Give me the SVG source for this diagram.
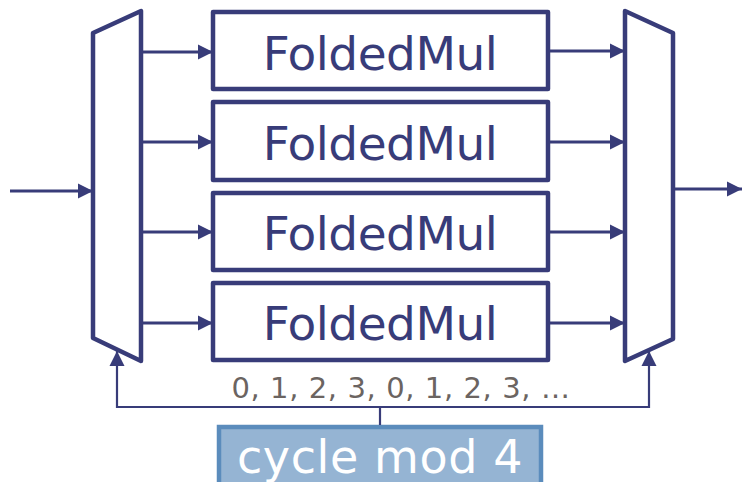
<svg xmlns="http://www.w3.org/2000/svg" width="742" height="482" viewBox="0 0 742 482">
  <defs>
    <marker id="ah" viewBox="0 0 10 10" refX="10" refY="5" markerWidth="15" markerHeight="16" markerUnits="userSpaceOnUse" orient="auto">
      <path d="M0,0 L10,5 L0,10 Z" fill="#383c79"/>
    </marker>
  </defs>
  <style>
    .mux { fill: #fff; stroke: #383c79; stroke-width: 4.5; stroke-linejoin: round; }
    .box { fill: #fff; stroke: #383c79; stroke-width: 4.5; stroke-linejoin: round; }
    .lbl { font-family: "DejaVu Sans", Verdana, sans-serif; font-size: 47px; letter-spacing: -0.5px; fill: #383c79; text-anchor: middle; }
    .wire { fill: none; stroke: #383c79; stroke-width: 3; }
    .thin { fill: none; stroke: #383c79; stroke-width: 2.2; }
    .seq { font-family: "DejaVu Sans", Verdana, sans-serif; font-size: 29px; letter-spacing: 0.6px; fill: #6b6461; text-anchor: middle; }
    .ctl { fill: #95b4d3; stroke: #5b8cbc; stroke-width: 4.5; }
    .ctltxt { font-family: "DejaVu Sans", Verdana, sans-serif; font-size: 46px; letter-spacing: 0.6px; fill: #fff; text-anchor: middle; }
  </style>

  <g id="demux">
    <polygon class="mux" points="93,33 141,11 141,361 93,338"/>
  </g>
  <g id="mux">
    <polygon class="mux" points="625,11 673,33 673,339 625,361"/>
  </g>

  <g id="mul0">
    <rect class="box" x="213" y="12" width="335" height="77"/>
    <text class="lbl" x="380" y="70">FoldedMul</text>
  </g>
  <g id="mul1">
    <rect class="box" x="213" y="102" width="335" height="78"/>
    <text class="lbl" x="380" y="160">FoldedMul</text>
  </g>
  <g id="mul2">
    <rect class="box" x="213" y="193" width="335" height="77"/>
    <text class="lbl" x="380" y="250">FoldedMul</text>
  </g>
  <g id="mul3">
    <rect class="box" x="213" y="283" width="335" height="77"/>
    <text class="lbl" x="380" y="340">FoldedMul</text>
  </g>

  <g id="counter">
    <rect class="ctl" x="219" y="427" width="322" height="70"/>
    <text class="ctltxt" x="380" y="473">cycle mod 4</text>
  </g>

  <text class="seq" x="401" y="398">0, 1, 2, 3, 0, 1, 2, 3, …</text>

  <g id="connectors">
    <line class="wire" x1="10" y1="191" x2="93" y2="191" marker-end="url(#ah)"/>
    <line class="wire" x1="141" y1="52" x2="213" y2="52" marker-end="url(#ah)"/>
    <line class="wire" x1="141" y1="142" x2="213" y2="142" marker-end="url(#ah)"/>
    <line class="wire" x1="141" y1="232" x2="213" y2="232" marker-end="url(#ah)"/>
    <line class="wire" x1="141" y1="323" x2="213" y2="323" marker-end="url(#ah)"/>
    <line class="wire" x1="548" y1="51" x2="625" y2="51" marker-end="url(#ah)"/>
    <line class="wire" x1="548" y1="142" x2="625" y2="142" marker-end="url(#ah)"/>
    <line class="wire" x1="548" y1="232" x2="625" y2="232" marker-end="url(#ah)"/>
    <line class="wire" x1="548" y1="323" x2="625" y2="323" marker-end="url(#ah)"/>
    <line class="wire" x1="673" y1="189" x2="742" y2="189" marker-end="url(#ah)"/>
    <line class="thin" x1="380" y1="425" x2="380" y2="407"/>
    <polyline class="thin" points="380,407 117,407 117,351" marker-end="url(#ah)"/>
    <polyline class="thin" points="380,407 649,407 649,351" marker-end="url(#ah)"/>
  </g>
</svg>
